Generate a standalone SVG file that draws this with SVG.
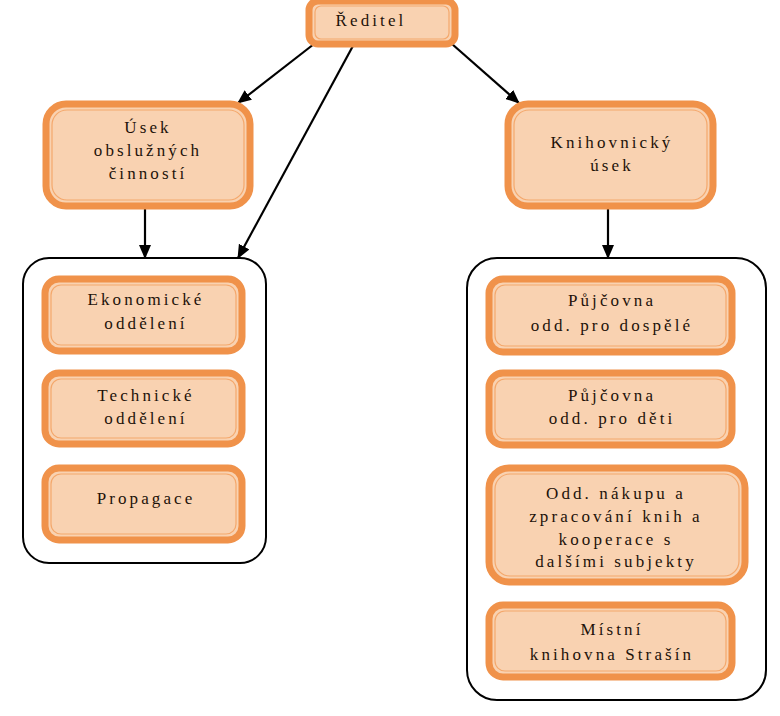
<svg xmlns="http://www.w3.org/2000/svg" width="780" height="716" viewBox="0 0 780 716">
<defs>
<style>
.o{fill:#F9D2B1;stroke:#F0924A;stroke-width:7}
.i{fill:none;stroke:#F4A86C;stroke-width:1.2}
.c{fill:#fff;stroke:#000;stroke-width:2}
.t{font-family:"Liberation Serif",serif;font-size:17px;letter-spacing:3.1px;fill:#1e120a;text-anchor:middle}
.l{stroke:#000;stroke-width:2.2;fill:none}
</style>
<marker id="a" markerWidth="14" markerHeight="12" refX="13" refY="6" orient="auto" markerUnits="userSpaceOnUse">
<path d="M0,0 L14,6 L0,12 z" fill="#000"/>
</marker>
</defs>
<rect width="780" height="716" fill="#fff"/>
<g id="cont-left"><rect class="c" x="23" y="258" width="243" height="305" rx="26"/></g>
<g id="cont-right"><rect class="c" x="467" y="258" width="299" height="442" rx="30"/></g>
<g id="connectors">
<line class="l" x1="314" y1="44" x2="238" y2="103" marker-end="url(#a)"/>
<line class="l" x1="354" y1="44" x2="238" y2="258" marker-end="url(#a)"/>
<line class="l" x1="452" y1="44" x2="519" y2="103" marker-end="url(#a)"/>
<line class="l" x1="145" y1="208" x2="145" y2="258" stroke-width="3" marker-end="url(#a)"/>
<line class="l" x1="608" y1="209" x2="608" y2="258" stroke-width="3" marker-end="url(#a)"/>
</g>
<g id="reditel"><rect class="o" x="309" y="1" width="146" height="43" rx="9"/><rect class="i" x="315" y="6" width="134" height="33" rx="6"/><text class="t" x="371" y="26">Ředitel</text></g>
<g id="usek"><rect class="o" x="46" y="104" width="204" height="102" rx="20"/><rect class="i" x="52" y="110" width="192" height="90" rx="15"/><text class="t" x="148" y="133">Úsek</text><text class="t" x="148" y="156">obslužných</text><text class="t" x="148" y="179">činností</text></g>
<g id="knihovnicky"><rect class="o" x="508" y="104" width="205" height="102" rx="20"/><rect class="i" x="514" y="110" width="193" height="90" rx="15"/><text class="t" x="612" y="148">Knihovnický</text><text class="t" x="612" y="171">úsek</text></g>
<g id="ekonomicke"><rect class="o" x="45" y="279" width="197" height="72" rx="14"/><rect class="i" x="51" y="285" width="185" height="60" rx="10"/><text class="t" x="146" y="305">Ekonomické</text><text class="t" x="146" y="329">oddělení</text></g>
<g id="technicke"><rect class="o" x="45" y="373" width="197" height="71" rx="14"/><rect class="i" x="51" y="379" width="185" height="59" rx="10"/><text class="t" x="146" y="401">Technické</text><text class="t" x="146" y="424">oddělení</text></g>
<g id="propagace"><rect class="o" x="45" y="468" width="197" height="72" rx="14"/><rect class="i" x="51" y="474" width="185" height="60" rx="10"/><text class="t" x="146" y="504">Propagace</text></g>
<g id="pujcovna-dospele"><rect class="o" x="489" y="279" width="243" height="73" rx="14"/><rect class="i" x="495" y="285" width="231" height="61" rx="10"/><text class="t" x="612" y="306">Půjčovna</text><text class="t" x="612" y="331">odd. pro dospělé</text></g>
<g id="pujcovna-deti"><rect class="o" x="489" y="373" width="243" height="72" rx="14"/><rect class="i" x="495" y="379" width="231" height="60" rx="10"/><text class="t" x="612" y="401">Půjčovna</text><text class="t" x="612" y="424">odd. pro děti</text></g>
<g id="nakup"><rect class="o" x="489" y="468" width="256" height="114" rx="20"/><rect class="i" x="495" y="474" width="244" height="102" rx="15"/><text class="t" x="616" y="499">Odd. nákupu a</text><text class="t" x="616" y="522">zpracování knih a</text><text class="t" x="616" y="545">kooperace s</text><text class="t" x="616" y="567">dalšími subjekty</text></g>
<g id="mistni"><rect class="o" x="489" y="605" width="243" height="72" rx="14"/><rect class="i" x="495" y="611" width="231" height="60" rx="10"/><text class="t" x="612" y="635">Místní</text><text class="t" x="612" y="660">knihovna Strašín</text></g>
</svg>
